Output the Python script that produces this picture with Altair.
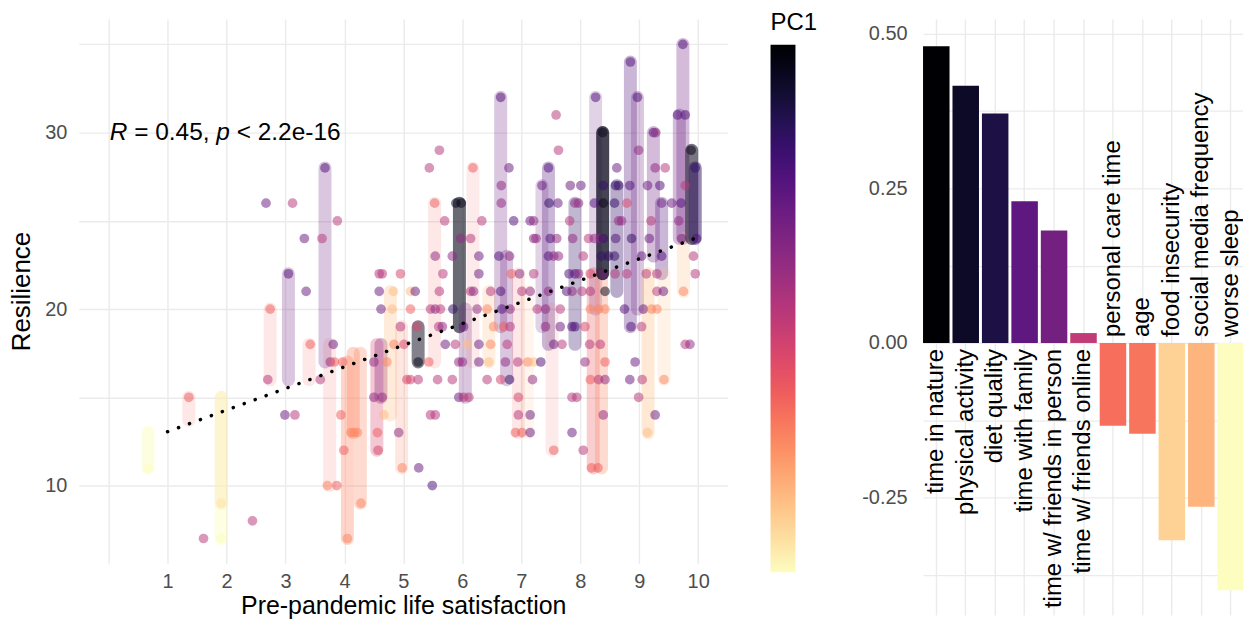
import altair as alt
import pandas as pd

FONT = "Liberation Sans"

# estimated PC1 colour values, read from the hue of each mark
D, V, P, L, M, K, R, S, O, E, YE, Y = 0.44, 0.32, 0.26, 0.20, 0.12, 0.04, -0.03, -0.10, -0.18, -0.28, -0.35, -0.40

# scatter points: (life satisfaction, resilience, PC1)
points = [
    (9.74, 35, P), (8.85, 34, P),
    (6.65, 32, P), (8.26, 32, P), (8.97, 32, P),
    (7.59, 31, K), (9.65, 31, P), (9.78, 31, P),
    (8.38, 30, D), (9.24, 30, P), (9.28, 30, M),
    (5.61, 29, K), (7.63, 29, K), (8.99, 29, M), (9.88, 29, D),
    (3.67, 28, P), (5.44, 28, K), (6.18, 28, S), (6.79, 28, L), (7.46, 28, P), (8.62, 28, L),
    (9.27, 28, M), (9.44, 28, K), (9.95, 28, V),
    (6.66, 27, M), (7.35, 27, L), (7.83, 27, L), (8.01, 27, L), (8.39, 27, V), (8.60, 27, V),
    (8.65, 27, V), (8.84, 27, P), (9.14, 27, L), (9.35, 27, P), (9.78, 27, K),
    (2.67, 26, L), (3.12, 26, K), (5.53, 26, S), (5.89, 26, D), (5.98, 26, D), (6.66, 26, M),
    (7.47, 26, V), (7.62, 26, L), (7.91, 26, M), (7.97, 26, M), (8.24, 26, P), (8.39, 26, D),
    (8.58, 26, V), (8.79, 26, R), (9.38, 26, L), (9.55, 26, L), (9.71, 26, P),
    (3.88, 25, K), (5.70, 25, K), (6.33, 25, K), (6.87, 25, P), (7.15, 25, L), (7.21, 25, M),
    (7.82, 25, K), (8.65, 25, M), (8.70, 25, M), (9.20, 25, K), (9.67, 25, M),
    (3.32, 24, L), (3.62, 24, K), (5.97, 24, M), (6.14, 24, K), (7.21, 24, M), (7.25, 24, M),
    (7.49, 24, P), (7.60, 24, M), (7.87, 24, M), (8.14, 24, K), (8.24, 24, M), (8.34, 24, M),
    (8.39, 24, V), (8.60, 24, P), (8.87, 24, V), (9.17, 24, L), (9.72, 24, L), (9.97, 24, P),
    (5.54, 23, M), (5.83, 23, M), (6.28, 23, L), (6.62, 23, P), (6.80, 23, M), (7.46, 23, P),
    (7.55, 23, M), (7.63, 23, M), (8.05, 23, K), (8.36, 23, V), (8.48, 23, V), (8.58, 23, V),
    (9.04, 23, L), (9.38, 23, P), (9.92, 23, K),
    (3.05, 22, P), (4.59, 22, K), (4.64, 22, K), (4.95, 22, R), (5.67, 22, K), (6.28, 22, L),
    (6.83, 22, S), (6.97, 22, M), (7.21, 22, K), (7.81, 22, P), (7.91, 22, P), (7.97, 22, M),
    (8.17, 22, R), (8.39, 22, L), (8.59, 22, K), (8.79, 22, K), (9.12, 22, K), (9.30, 22, K),
    (9.95, 22, K),
    (3.35, 21, L), (4.59, 21, L), (4.83, 21, E), (5.12, 21, E), (5.20, 21, L), (5.61, 21, K),
    (6.14, 21, K), (6.19, 21, M), (6.48, 21, K), (6.65, 21, P), (7.01, 21, K), (7.15, 21, M),
    (7.46, 21, M), (7.77, 21, P), (7.86, 21, M), (8.03, 21, K), (8.17, 21, K), (8.42, 21, D),
    (9.30, 21, K), (9.41, 21, L), (9.75, 21, O),
    (2.74, 20, S), (4.62, 20, L), (4.81, 20, E), (5.12, 20, S), (5.46, 20, K), (5.54, 20, M),
    (5.63, 20, K), (5.84, 20, V), (6.25, 20, M), (6.42, 20, O), (6.67, 20, P), (6.81, 20, M),
    (7.27, 20, K), (7.41, 20, M), (7.66, 20, K), (8.17, 20, O), (8.31, 20, O), (8.42, 20, O),
    (8.75, 20, P), (9.07, 20, L), (9.21, 20, O), (9.30, 20, O),
    (4.95, 19, K), (5.23, 19, R), (5.60, 19, K), (5.66, 19, M), (6.02, 19, L), (6.53, 19, O),
    (6.70, 19, S), (6.81, 19, K), (7.41, 19, M), (7.66, 19, L), (7.86, 19, P), (7.91, 19, P),
    (8.08, 19, R), (8.86, 19, P), (9.04, 19, K),
    (3.42, 18, S), (3.81, 18, L), (4.84, 18, O), (5.01, 18, R), (5.71, 18, L), (5.88, 18, K),
    (6.08, 18, E), (6.28, 18, L), (6.48, 18, O), (6.76, 18, K), (7.55, 18, L), (7.69, 18, K),
    (8.16, 18, K), (8.34, 18, K), (9.78, 18, K), (9.86, 18, M),
    (3.76, 17, M), (3.83, 17, S), (3.97, 17, S), (4.50, 17, M), (4.72, 17, O), (5.25, 17, D),
    (5.43, 17, S), (5.94, 17, M), (6.00, 17, M), (6.28, 17, L), (6.45, 17, E), (6.73, 17, M),
    (6.94, 17, K), (7.11, 17, O), (7.21, 17, E), (7.33, 17, P), (8.08, 17, M), (8.42, 17, S),
    (8.93, 17, L),
    (2.70, 16, K), (3.59, 16, K), (5.06, 16, R), (5.12, 16, R), (5.25, 16, K), (5.58, 16, K),
    (5.83, 16, K), (6.42, 16, K), (6.65, 16, R), (6.80, 16, V), (7.19, 16, M), (8.17, 16, S),
    (8.31, 16, K), (8.42, 16, M), (8.84, 16, L), (9.05, 16, K), (9.42, 16, O),
    (1.36, 15, S), (4.50, 15, M), (4.64, 15, M), (5.94, 15, L), (6.02, 15, K), (6.11, 15, K),
    (6.95, 15, R), (7.86, 15, K), (7.94, 15, K), (8.99, 15, K),
    (2.99, 14, L), (3.16, 14, K), (3.94, 14, S), (4.67, 14, E), (5.46, 14, K), (5.54, 14, K),
    (6.95, 14, K), (7.15, 14, L), (8.39, 14, M), (9.27, 14, L),
    (4.11, 13, O), (4.16, 13, O), (4.22, 13, O), (4.56, 13, S), (4.92, 13, M), (6.90, 13, S),
    (7.01, 13, S), (7.15, 13, L), (7.86, 13, L), (9.14, 13, E),
    (3.99, 12, S), (4.57, 12, R), (7.55, 12, S), (8.05, 12, K),
    (0.67, 11, Y), (4.98, 11, O), (5.26, 11, L), (8.19, 11, S), (8.30, 11, S),
    (3.71, 10, O), (3.87, 10, S), (5.49, 10, P),
    (1.91, 9, YE), (4.28, 9, O),
    (2.44, 8, K),
    (1.61, 7, K), (1.91, 7, Y), (4.05, 7, O),
]

# vertical ranges: (life satisfaction, low, high, PC1, alpha)
ranges = [
    (0.67, 11, 13, Y, 0.5), (1.36, 13.7, 15, S, 0.15), (1.91, 7, 15, Y, 0.45),
    (1.91, 9, 15, YE, 0.3), (2.74, 16, 20, S, 0.15), (3.05, 16, 22, L, 0.25),
    (3.40, 16, 18, S, 0.15), (3.67, 17, 28, L, 0.25), (3.75, 10, 18, S, 0.15),
    (4.05, 7, 17, O, 0.35), (4.15, 13, 17.5, O, 0.35), (4.27, 9, 17.5, O, 0.3),
    (4.55, 12, 18, R, 0.3), (4.62, 15, 18, M, 0.35), (4.78, 14, 21, E, 0.3),
    (4.97, 11, 19, O, 0.2), (5.25, 17, 19, D, 0.5), (5.53, 17, 26, S, 0.15),
    (5.95, 19, 26, D, 0.6), (6.05, 15, 20, L, 0.25), (6.18, 17, 28, S, 0.12),
    (6.45, 17, 21, E, 0.25), (6.65, 19, 32, L, 0.25), (6.75, 16, 23, L, 0.25),
    (6.95, 13, 22, S, 0.15), (7.10, 13, 21, E, 0.15), (7.35, 19, 27, L, 0.2),
    (7.46, 18, 28, P, 0.3), (7.52, 12, 20, S, 0.12), (7.91, 18, 26, V, 0.3),
    (8.22, 11, 22, S, 0.3), (8.26, 20, 32, L, 0.2), (8.36, 11, 22, O, 0.3),
    (8.38, 22, 30, D, 0.75), (8.62, 21, 27, V, 0.35), (8.85, 19, 34, P, 0.3),
    (8.97, 20, 32, L, 0.25), (9.15, 13, 22, E, 0.35), (9.24, 23, 30, L, 0.3),
    (9.38, 22, 26, P, 0.3), (9.42, 16, 22, E, 0.2), (9.68, 24, 31, L, 0.3),
    (9.74, 24, 35, L, 0.3), (9.75, 21, 24, E, 0.25), (9.89, 24, 29, D, 0.55),
    (9.95, 24, 28, V, 0.5),
]

# regression line end points
line_x = [1, 10]
line_y = [13.05, 24.07]

# PC1 loadings
variables = ["time in nature", "physical activity", "diet quality", "time with family",
             "time w/ friends in person", "time w/ friends online", "personal care time",
             "age", "food insecurity", "social media frequency", "worse sleep"]
loadings = [0.48, 0.416, 0.371, 0.229, 0.182, 0.016, -0.134, -0.147, -0.319, -0.265, -0.40]

x_grid = [i * 0.5 for i in range(0, 22)]
y_grid = [10, 15, 20, 25, 30, 35]
bar_grid = [-0.375, -0.25, -0.125, 0, 0.125, 0.25, 0.375, 0.5]

df_pts = pd.DataFrame(points, columns=["x", "y", "pc"])
df_rng = pd.DataFrame(ranges, columns=["x", "lo", "hi", "pc", "alpha"])
df_line = pd.DataFrame({"x": line_x, "y": line_y})
df_bar = pd.DataFrame({"var": variables, "val": loadings})

GRID = "#EBEBEB"
cscale = alt.Scale(scheme="magma", reverse=True, domain=[-0.40, 0.48])
xs = alt.Scale(domain=[-0.506, 10.5], nice=False, zero=False)
ys = alt.Scale(domain=[5.6, 36.44], nice=False, zero=False)

x_axis = alt.Axis(
    values=x_grid, labelExpr="datum.value >= 1 && datum.value % 1 == 0 ? datum.value : ''",
    title="Pre-pandemic life satisfaction", ticks=False, domain=False, grid=True,
    gridColor=GRID, gridWidth=1.4, labelFontSize=20, labelColor="#4D4D4D",
    titleFontSize=25, titleColor="black", titleFontWeight="normal",
    labelPadding=8, titlePadding=2, labelFlush=False, labelOverlap=False)
y_axis = alt.Axis(
    values=y_grid, labelExpr="datum.value % 10 == 0 ? datum.value : ''",
    title="Resilience", ticks=False, domain=False, grid=True,
    gridColor=GRID, gridWidth=1.4, labelFontSize=20, labelColor="#4D4D4D",
    titleFontSize=26, titleColor="black", titleFontWeight="normal",
    labelPadding=12, titlePadding=10, labelFlush=False, labelOverlap=False)

legend = alt.Legend(title="PC1", type="gradient", orient="none", legendX=694, legendY=-8,
                    gradientLength=529, gradientThickness=25, labelExpr="''",
                    titleFontSize=24, titleFontWeight="normal", titleColor="black",
                    titlePadding=10, direction="vertical", gradientStrokeWidth=0)

rng = alt.Chart(df_rng).mark_rule(strokeWidth=13, strokeCap="round").encode(
    x=alt.X("x:Q", scale=xs, axis=x_axis),
    y=alt.Y("lo:Q", scale=ys, axis=y_axis), y2="hi:Q",
    stroke=alt.Stroke("pc:Q", scale=cscale, legend=None),
    opacity=alt.Opacity("alpha:Q", scale=None))

pts = alt.Chart(df_pts).mark_circle(size=95, opacity=1, fillOpacity=0.52).encode(
    x=alt.X("x:Q", scale=xs, axis=x_axis), y=alt.Y("y:Q", scale=ys, axis=y_axis),
    color=alt.Color("pc:Q", scale=cscale, legend=legend))

reg = alt.Chart(df_line).mark_line(color="black", strokeWidth=3.5, strokeDash=[0.1, 11.6],
                                    strokeCap="round").encode(x=alt.X("x:Q", scale=xs),
                                                              y=alt.Y("y:Q", scale=ys))

ann_fs = 24.5
def frag(txt, dx, italic):
    return alt.Chart(pd.DataFrame({"x": [0.02], "y": [30]})).mark_text(
        text=txt, align="left", baseline="middle", fontSize=ann_fs, font=FONT,
        fontStyle="italic" if italic else "normal", color="black", dx=dx).encode(
        x=alt.X("x:Q", scale=xs), y=alt.Y("y:Q", scale=ys))

w = lambda em: em * ann_fs
ann = (frag("R", 0, True) + frag("= 0.45,", w(1.0), False) +
       frag("p", w(1.0 + 3.086 + 0.278), True) +
       frag("< 2.2e-16", w(1.0 + 3.086 + 0.278 + 0.556 + 0.278), False))

scatter = alt.layer(rng, pts, reg, ann).properties(width=651, height=546)

# band scale reaches the right edge of the panel, as in the cropped original
bx = alt.X("var:N", sort=variables,
           scale=alt.Scale(range=[3, 325], paddingInner=0.1, paddingOuter=0),
           axis=alt.Axis(labels=False, ticks=False, domain=False, title=None, grid=True,
                         gridColor=GRID, gridWidth=1.4, bandPosition=0.5))
by = alt.Y("val:Q", scale=alt.Scale(domain=[-0.44, 0.524], nice=False, zero=False),
           axis=alt.Axis(values=bar_grid, title=None, ticks=False, domain=False, grid=True,
                         gridColor=GRID, gridWidth=1.4, labelFontSize=20, labelColor="#4D4D4D",
                         labelPadding=13, labelFlush=False, labelOverlap=False,
                         labelExpr="datum.value == 0.5 ? '0.50' : datum.value == 0.25 ? '0.25' : datum.value == 0 ? '0.00' : datum.value == -0.25 ? '-0.25' : ''"))

base = alt.Chart(df_bar)
bars = base.mark_bar(clip=True).encode(x=bx, y=by,
                                       color=alt.Color("val:Q", scale=cscale, legend=None))
lab_pos = base.transform_filter("datum.val >= 0").mark_text(
    angle=270, align="right", baseline="middle", dx=-6, fontSize=24, font=FONT,
    color="black", clip=True).encode(x=bx, y=alt.datum(0), text="var:N")
lab_neg = base.transform_filter("datum.val < 0").mark_text(
    angle=270, align="left", baseline="middle", dx=6, fontSize=24, font=FONT,
    color="black", clip=True).encode(x=bx, y=alt.datum(0), text="var:N")

barchart = alt.layer(bars, lab_pos, lab_neg).properties(width=324, height=598)

chart = alt.hconcat(scatter, barchart, spacing=44).resolve_scale(color="independent").properties(
    padding={"left": 0, "top": 2, "right": 0, "bottom": 0}
).configure_view(strokeWidth=0).configure_axis(labelFont=FONT, titleFont=FONT).configure_legend(
    titleFont=FONT, labelFont=FONT)

chart.save("out.html", embed_options={"renderer": "svg", "actions": False})
